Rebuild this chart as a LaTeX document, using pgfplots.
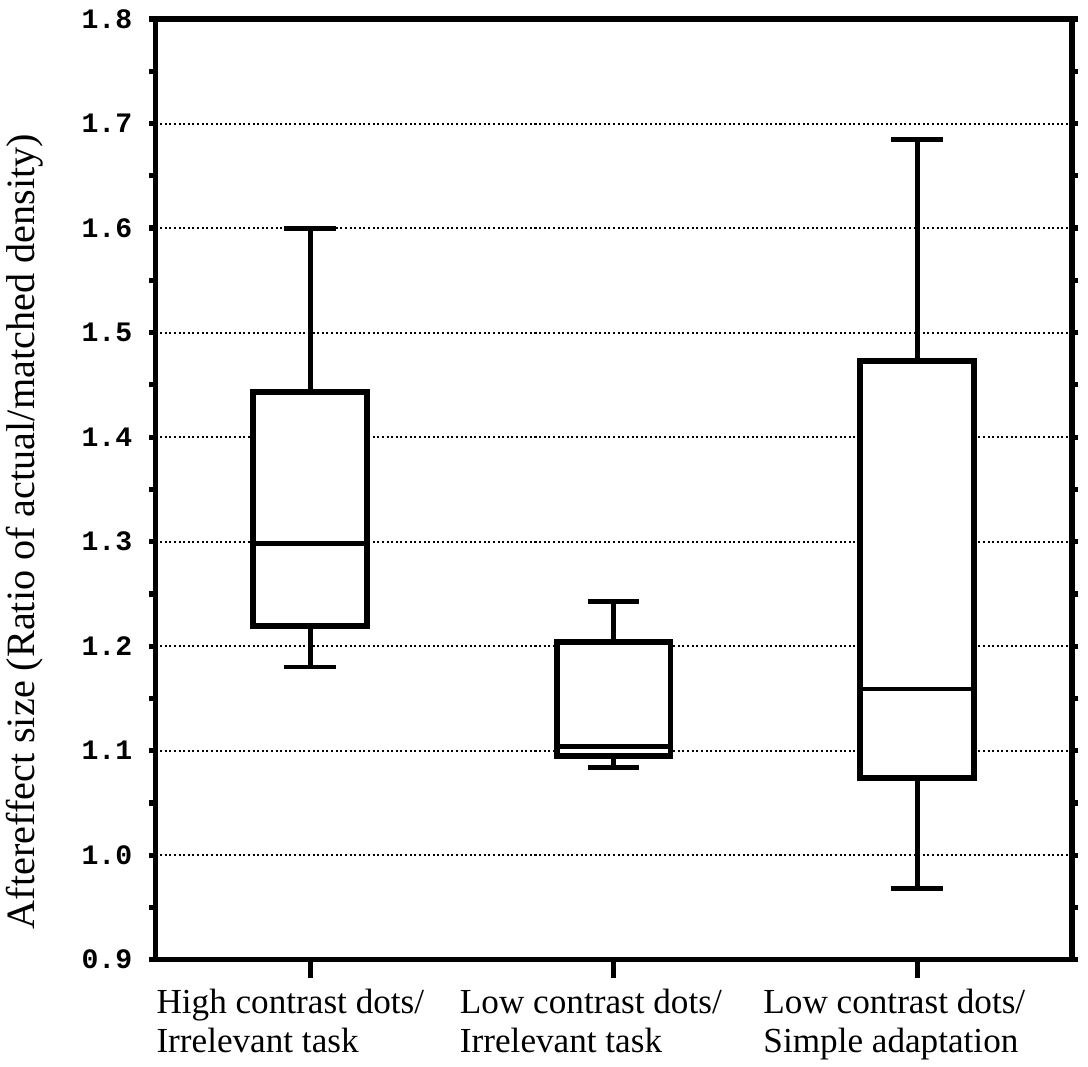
\documentclass[border=0pt]{standalone}
\usepackage{fontspec}
\setmainfont{Liberation Serif}
\setmonofont{Liberation Mono}
\usepackage{pgfplots}
\pgfplotsset{compat=1.18}
\usepgfplotslibrary{statistics}

\begin{document}
\begin{tikzpicture}
\begin{axis}[
  scale only axis, width=456pt, height=468pt,
  xmin=0.49, xmax=3.51, ymin=0.9, ymax=1.8,
  axis line style={line width=2.8pt},
  xtick={1,2,3},
  xticklabels={{High contrast dots/\\[2pt]Irrelevant task},{Low contrast dots/\\[2pt]Irrelevant task},{Low contrast dots/\\[2pt]Simple adaptation}},
  xticklabel style={align=left, font=\fontsize{17.5}{17.5}\selectfont, anchor=north west, xshift=-80pt, yshift=-8pt},
  xtick pos=left,
  ytick={0.9,1.0,1.1,1.2,1.3,1.4,1.5,1.6,1.7,1.8},
  yticklabels={0.9,1.0,1.1,1.2,1.3,1.4,1.5,1.6,1.7,1.8},
  minor ytick={0.95,1.05,1.15,1.25,1.35,1.45,1.55,1.65,1.75},
  yticklabel style={font=\ttfamily\bfseries\fontsize{14}{14}\selectfont, xshift=-5pt},
  tick align=outside,
  ytick pos=both,
  ymajorgrids,
  major grid style={line width=1pt, dash pattern=on 1pt off 1.3pt, black},
  tick style={line width=2.6pt, black},
  major tick length=3pt, minor tick length=3pt,
  xtick style={/pgfplots/major tick length=9pt},
  ylabel={Aftereffect size (Ratio of actual/matched density)},
  ylabel style={font=\fontsize{20}{20}\selectfont, at={(ticklabel cs:0.455)}, yshift=12pt},
  boxplot/draw direction=y,
  boxplot/box extend=0.375,
  boxplot/whisker extend=0.17,
  boxplot/every whisker/.style={line width=2.4pt},
  boxplot/every median/.style={line width=2.4pt},
]
\addplot[boxplot prepared={draw position=1, lower whisker=1.18, lower quartile=1.219, median=1.298, upper quartile=1.443, upper whisker=1.6}, draw=black, fill=white, line width=2.8pt] coordinates {};
\addplot[boxplot prepared={draw position=2, lower whisker=1.084, lower quartile=1.095, median=1.104, upper quartile=1.204, upper whisker=1.243}, draw=black, fill=white, line width=2.8pt] coordinates {};
\addplot[boxplot prepared={draw position=3, lower whisker=0.968, lower quartile=1.074, median=1.159, upper quartile=1.473, upper whisker=1.685}, draw=black, fill=white, line width=2.8pt] coordinates {};
\coordinate (ne) at (rel axis cs:1,1);
\end{axis}
\path (ne) ++(8pt,9.5pt) coordinate (bbx);
\end{tikzpicture}
\end{document}
